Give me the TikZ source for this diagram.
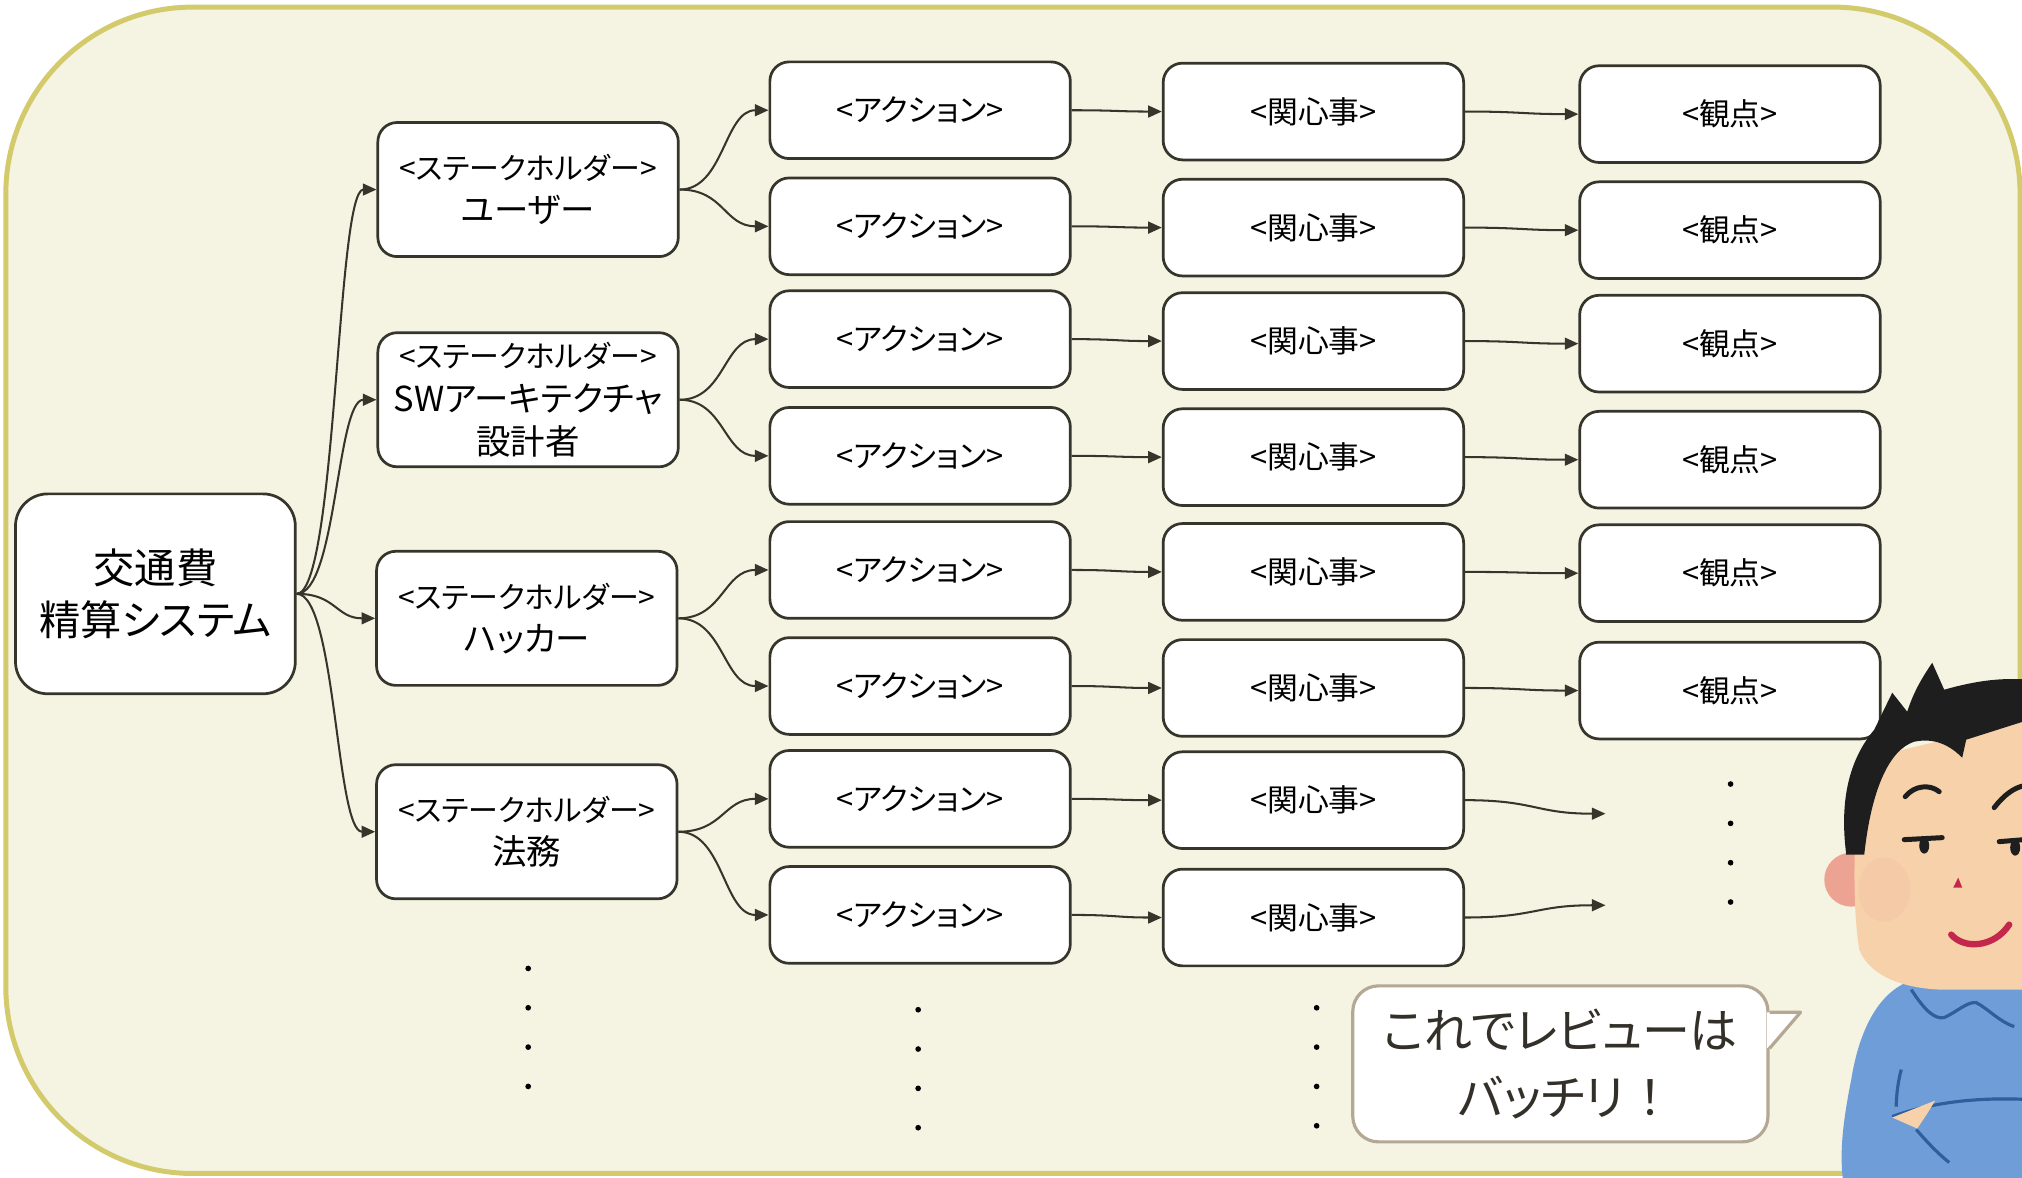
\documentclass[tikz,border=0pt]{standalone}
\usepackage{fontspec}
\setmainfont{Noto Sans CJK JP}[RawFeature=+palt]
\usetikzlibrary{arrows.meta, calc}

\definecolor{paper}{HTML}{F5F3E1}
\definecolor{frame}{HTML}{D3CB6B}
\definecolor{wire}{HTML}{36352B}
\definecolor{bubbleline}{HTML}{B4A894}
\definecolor{talk}{HTML}{33302A}
\definecolor{skin}{HTML}{F7D1AA}
\definecolor{cheek}{HTML}{EDA391}
\definecolor{shirt}{HTML}{6E9DD8}
\definecolor{shirtline}{HTML}{2F5E9C}
\definecolor{lip}{HTML}{C3284C}
\definecolor{hair}{HTML}{1E1E1E}

\newcommand\holdername[1]{{\fontsize{7.6}{9.5}\selectfont #1}}

\tikzset{
  card/.style={draw=wire, fill=white, rounded corners=0.15cm, line width=0.6pt,
    minimum width=2.33cm, minimum height=0.75cm, inner sep=0pt,
    font=\fontsize{6.8}{8}\selectfont},
  holder/.style={card, minimum height=1.04cm, align=center,
    font=\fontsize{6.6}{9.5}\selectfont},
  link/.style={draw=wire, line width=0.45pt, -{Triangle[length=3pt,width=2.6pt]},
    to path={let \p1=(\tikztostart), \p2=(\tikztotarget) in
      .. controls ({(\x1+\x2)/2},\y1) and ({(\x1+\x2)/2},\y2) .. (\tikztotarget) \tikztonodes}},
}

\begin{document}
\begin{tikzpicture}
\useasboundingbox (0,0) rectangle (15.68,-9.13);
\clip (0,0) rectangle (15.68,-9.13);

\draw[frame, fill=paper, line width=1.1pt, rounded corners=1.45cm] (0.045,-0.055) rectangle (15.665,-9.10);

\node[card, minimum width=2.17cm, minimum height=1.55cm, rounded corners=0.25cm, align=center,
  font=\fontsize{9.1}{11.6}\selectfont] (Kotsuhi) at (1.205,-4.605) {交通費\\精算システム};

\node[holder] (User) at (4.095,-1.47) {<ステークホルダー>\\\holdername{ユーザー}};
\node[holder] (Architect) at (4.095,-3.10) {<ステークホルダー>\\\holdername{SWアーキテクチャ}\\\holdername{設計者}};
\node[holder] (Hacker) at (4.085,-4.795) {<ステークホルダー>\\\holdername{ハッカー}};
\node[holder] (Legal) at (4.085,-6.45) {<ステークホルダー>\\\holdername{法務}};

\foreach \y [count=\i] in {0.855,1.755,2.63,3.535,4.42,5.32,6.195,7.095}
  \node[card] (A\i) at (7.135,-\y) {<アクション>};
\foreach \y [count=\i] in {0.865,1.765,2.645,3.545,4.435,5.335,6.205,7.115}
  \node[card] (K\i) at (10.185,-\y) {<関心事>};
\foreach \y [count=\i] in {0.885,1.785,2.665,3.565,4.445,5.355}
  \node[card] (V\i) at (13.415,-\y) {<観点>};

\coordinate (Open7) at (12.45,-6.31);
\coordinate (Open8) at (12.45,-7.02);

\draw[link] (Kotsuhi.east) to (User.west);
\draw[link] (Kotsuhi.east) to (Architect.west);
\draw[link] (Kotsuhi.east) to (Hacker.west);
\draw[link] (Kotsuhi.east) to (Legal.west);

\draw[link] (User.east) to (A1.west);
\draw[link] (User.east) to (A2.west);
\draw[link] (Architect.east) to (A3.west);
\draw[link] (Architect.east) to (A4.west);
\draw[link] (Hacker.east) to (A5.west);
\draw[link] (Hacker.east) to (A6.west);
\draw[link] (Legal.east) to (A7.west);
\draw[link] (Legal.east) to (A8.west);

\foreach \i in {1,...,8}
  \draw[link] (A\i.east) to (K\i.west);
\foreach \i in {1,...,6}
  \draw[link] (K\i.east) to (V\i.west);
\draw[link] (K7.east) to (Open7);
\draw[link] (K8.east) to (Open8);

\foreach \x/\y in {4.096/7.51, 7.12/7.83, 10.21/7.815, 13.42/6.08}
  \foreach \k in {0,1,2,3}
    \fill (\x,-\y-0.305*\k) circle (0.022);

\node[draw=bubbleline, fill=white, rounded corners=0.2cm, line width=0.7pt,
  minimum width=3.22cm, minimum height=1.21cm, align=center, text=talk,
  font=\fontsize{10.6}{14.7}\selectfont] (Bubble) at (12.10,-8.25) {これでレビューは\\バッチリ\hspace{0.3em}！};
\fill[white] ([yshift=0.40cm,xshift=-0.02cm]Bubble.east) -- ([yshift=0.40cm,xshift=0.24cm]Bubble.east)
  -- ([yshift=0.12cm,xshift=-0.02cm]Bubble.east) -- cycle;
\draw[bubbleline, line width=0.7pt, line join=round] ([yshift=0.40cm]Bubble.east)
  -- ([yshift=0.40cm,xshift=0.24cm]Bubble.east) -- ([yshift=0.12cm]Bubble.east);

\begin{scope}[x=0.0077549cm, y=-0.0077549cm]
  \fill[shirt] (1915,980) .. controls (1880,990) and (1860,1030) .. (1852,1080)
    .. controls (1842,1130) and (1840,1160) .. (1845,1190) -- (2030,1190) -- (2030,985) -- cycle;
  \draw[shirtline, line width=0.7pt] (1912,990) .. controls (1925,1010) and (1935,1020) .. (1945,1018)
    .. controls (1958,1012) and (1968,1002) .. (1977,1003) .. controls (1990,1010) and (2000,1022) .. (2015,1027);
  \draw[shirtline, line width=0.7pt] (1902,1070) .. controls (1898,1085) and (1897,1100) .. (1897,1107);
  \draw[shirtline, line width=0.7pt] (1893,1117) .. controls (1940,1100) and (1990,1098) .. (2030,1100);
  \draw[shirtline, line width=0.7pt] (1917,1130) .. controls (1930,1145) and (1940,1155) .. (1950,1163);
  \fill[skin] (1893,1118) -- (1936,1101) -- (1928,1114) -- (1918,1129) -- cycle;
  \fill[cheek] (1852,880) circle (27);
  \fill[skin] (1862,760) .. controls (1855,820) and (1852,900) .. (1860,950)
    .. controls (1870,975) and (1900,988) .. (1940,990) -- (2030,990) -- (2030,720) -- cycle;
  \fill[cheek, opacity=0.15] (1885,890) ellipse (26 and 32);
  \fill[hair] (1847,855) .. controls (1840,800) and (1850,760) .. (1875,730) -- (1893,693) -- (1908,712)
    .. controls (1915,690) and (1925,675) .. (1933,663) -- (1945,690)
    .. controls (1980,680) and (2005,678) .. (2030,680) -- (2030,720) -- (1967,740) -- (1963,758)
    .. controls (1950,745) and (1935,738) .. (1915,742) .. controls (1890,750) and (1872,790) .. (1865,855) -- cycle;
  \draw[hair, line width=1.1pt, line cap=round] (1906,797) .. controls (1915,786) and (1930,784) .. (1940,792);
  \draw[hair, line width=1.1pt, line cap=round] (1995,808) .. controls (2005,795) and (2015,788) .. (2025,786);
  \draw[hair, line width=1.1pt, line cap=round] (1905,840) -- (1943,838);
  \draw[hair, line width=1.1pt, line cap=round] (2000,842) -- (2025,840);
  \fill[hair] (1925,846) ellipse (5 and 8);
  \fill[hair] (2016,848) ellipse (5 and 8);
  \fill[lip] (1959,878) -- (1963,888) -- (1954,888) -- cycle;
  \draw[lip, line width=1.4pt, line cap=round] (1952,935) .. controls (1965,950) and (1995,948) .. (2010,925);
\end{scope}
\end{tikzpicture}
\end{document}
